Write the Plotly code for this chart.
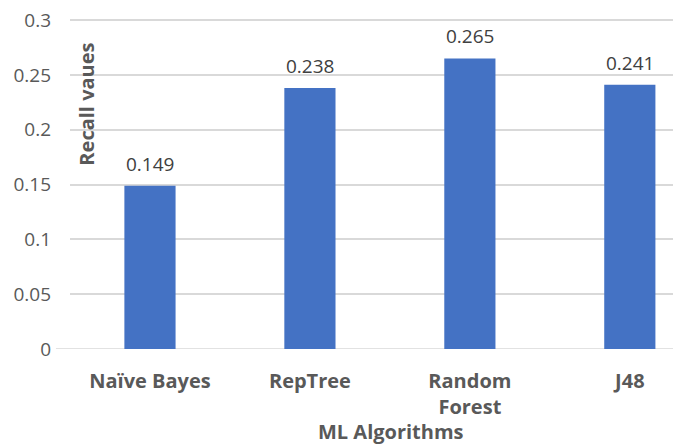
import plotly.graph_objects as go

categories = ["Naïve Bayes", "RepTree", "Random<br>Forest", "J48"]
recall = [0.149, 0.238, 0.265, 0.241]
labels = ["0.149", "0.238", "0.265", "0.241"]
y_ticks = [0, 0.05, 0.1, 0.15, 0.2, 0.25, 0.3]
y_ticktext = ["0", "0.05", "0.1", "0.15", "0.2", "0.25", "0.3"]

FONT = "Open Sans"
xs = list(range(len(categories)))

fig = go.Figure()
fig.add_trace(go.Bar(
    x=xs, y=recall, width=0.32,
    marker=dict(color="#4472C4", line=dict(width=0)),
))

ann = [
    dict(x=x, y=v, xref="x", yref="y", text=t, showarrow=False,
         yanchor="bottom", yshift=7,
         font=dict(family=FONT, size=19, color="#404040"))
    for x, v, t in zip(xs, recall, labels)
]
ann += [
    dict(text="<b>Recall vaues</b>", textangle=-90, xref="paper", yref="paper",
         x=0.027, y=0.742, xanchor="center", yanchor="middle", showarrow=False,
         font=dict(size=20, color="#595959", family=FONT)),
    dict(text="<b>ML Algorithms</b>", xref="paper", yref="paper",
         x=0.525, y=-0.25, xanchor="center", yanchor="middle", showarrow=False,
         font=dict(size=20, color="#595959", family=FONT)),
]

fig.update_layout(
    width=673, height=438,
    margin=dict(l=62, r=0, t=11, b=97, autoexpand=False),
    plot_bgcolor="white", paper_bgcolor="white",
    showlegend=False,
    font=dict(family=FONT, color="#595959"),
    xaxis=dict(
        range=[-0.5, 3.32], tickvals=xs,
        ticktext=["<b>" + c.replace("<br>", "</b><br><b>") + "</b>" for c in categories],
        tickfont=dict(size=20, color="#595959"), showgrid=False, showline=False,
        ticks="", zeroline=False, ticklabelstandoff=18,
    ),
    yaxis=dict(
        range=[0, 0.301], tickvals=y_ticks, ticktext=y_ticktext,
        tickfont=dict(size=19, color="#595959"), showgrid=True,
        gridcolor="#d9d9d9", gridwidth=1.5, zeroline=False, showline=False,
        ticks="", ticklabelstandoff=18, ticklabeloverflow="allow",
    ),
    shapes=[dict(type="line", xref="paper", yref="y", x0=-0.023, x1=1, y0=0, y1=0,
                 line=dict(color="#d9d9d9", width=1.5), layer="below")],
    annotations=ann,
)

fig.write_html("out.html")
